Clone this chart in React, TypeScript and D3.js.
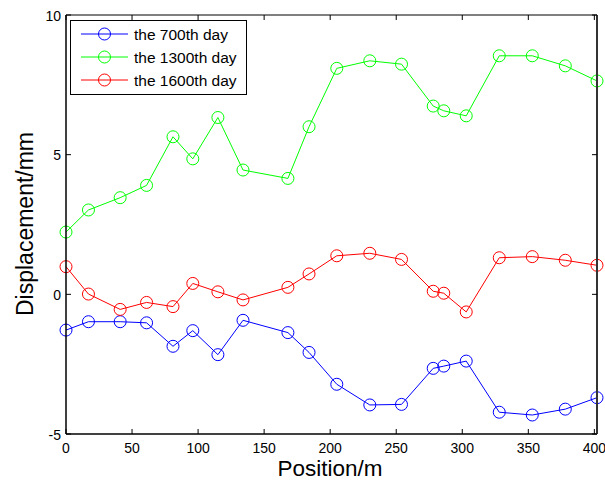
import React from 'react';
import * as d3 from 'd3';

const positions = [0, 17, 41, 61, 81, 96, 115, 134, 168, 184, 205, 230, 254, 278, 286, 303, 328, 353, 378, 402];
const day700 = [-1.28, -0.98, -0.98, -1.02, -1.86, -1.30, -2.16, -0.93, -1.37, -2.08, -3.22, -3.96, -3.94, -2.65, -2.57, -2.39, -4.22, -4.32, -4.11, -3.70];
const day1300 = [2.23, 3.02, 3.46, 3.90, 5.64, 4.85, 6.33, 4.45, 4.15, 6.0, 8.09, 8.36, 8.24, 6.74, 6.57, 6.39, 8.54, 8.54, 8.18, 7.64];
const day1600 = [0.99, 0.01, -0.54, -0.29, -0.44, 0.39, 0.09, -0.20, 0.25, 0.73, 1.38, 1.47, 1.25, 0.11, 0.04, -0.63, 1.31, 1.35, 1.22, 1.04];
const seriesNames = ['the 700th day', 'the 1300th day', 'the 1600th day'];
const seriesColors = ['#0000ff', '#00ff00', '#ff0000'];
const xTicks = [0, 50, 100, 150, 200, 250, 300, 350, 400];
const yTicks = [-5, 0, 5, 10];

export default function App() {
  const W = 605, H = 482;
  const L = 66, T = 15, R = 597, B = 434;
  const x = d3.scaleLinear().domain([0, 402]).range([L, R]);
  const y = d3.scaleLinear().domain([-5, 10]).range([B, T]);
  const series = [day700, day1300, day1600];
  const line = d3.line<number>().x((_, i) => x(positions[i])).y((d) => y(d));
  const font = 'Arial, "Liberation Sans", sans-serif';
  const tickLen = 5;
  return (
    <svg width={W} height={H} style={{ position: 'absolute', left: 0, top: 0 }} fontFamily={font}>
      <rect x={0} y={0} width={W} height={H} fill="#fff" />
      {series.map((s, k) => (
        <g key={k}>
          <path d={line(s) || ''} fill="none" stroke={seriesColors[k]} strokeWidth={1} />
          {s.map((v, i) => (
            <circle key={i} cx={x(positions[i])} cy={y(v)} r={6} fill="none" stroke={seriesColors[k]} strokeWidth={1} />
          ))}
        </g>
      ))}
      {/* axes box */}
      <line x1={L} x2={R} y1={T} y2={T} stroke="#000" />
      <line x1={L} x2={R} y1={B} y2={B} stroke="#000" strokeWidth={1.5} />
      <line x1={L} x2={L} y1={T} y2={B} stroke="#000" strokeWidth={1.5} />
      <line x1={R} x2={R} y1={T} y2={B} stroke="#333" strokeWidth={2} />
      {xTicks.map((t) => (
        <g key={t}>
          <line x1={x(t)} x2={x(t)} y1={B} y2={B - tickLen} stroke="#000" />
          <line x1={x(t)} x2={x(t)} y1={T} y2={T + tickLen} stroke="#000" />
          <text x={x(t)} y={B + 19} fontSize={14} textAnchor="middle">{t}</text>
        </g>
      ))}
      {yTicks.map((t) => (
        <g key={t}>
          <line x1={L} x2={L + tickLen} y1={y(t)} y2={y(t)} stroke="#000" />
          <line x1={R} x2={R - tickLen} y1={y(t)} y2={y(t)} stroke="#000" />
          <text x={L - 5} y={y(t) + 5.5} fontSize={14} textAnchor="end">{t}</text>
        </g>
      ))}
      <text x={330} y={476} fontSize={22.5} textAnchor="middle">Position/m</text>
      <text transform={`translate(33, 224) rotate(-90)`} fontSize={23} textAnchor="middle">Displacement/mm</text>
      {/* legend */}
      <rect x={70.5} y={20.5} width={176} height={74} fill="#fff" stroke="#000" />
      {seriesNames.map((n, k) => {
        const ly = 34 + k * 23;
        return (
          <g key={k}>
            <line x1={81} x2={128} y1={ly} y2={ly} stroke={seriesColors[k]} />
            <circle cx={104.5} cy={ly} r={6} fill="none" stroke={seriesColors[k]} />
            <text x={134} y={ly + 6} fontSize={15.5}>{n}</text>
          </g>
        );
      })}
    </svg>
  );
}
